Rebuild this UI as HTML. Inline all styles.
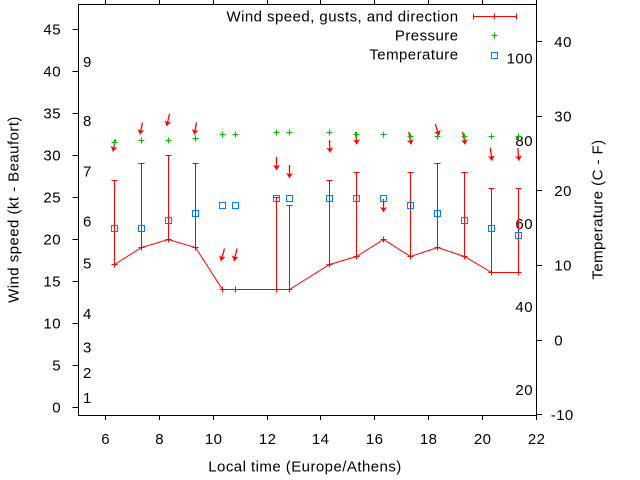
<!DOCTYPE html>
<html>
<head>
<meta charset="utf-8">
<style>
  html,body{margin:0;padding:0;background:#fff;}
  svg{display:block;}
  text{font-family:"Liberation Sans",Arial,sans-serif;font-size:15px;letter-spacing:0.45px;fill:#000;}
</style>
</head>
<body>
<svg width="640" height="480" viewBox="0 0 640 480" xmlns="http://www.w3.org/2000/svg">
  <defs>
    <marker id="ah" viewBox="0 -3.5 5 7" refX="5" refY="0" markerWidth="5" markerHeight="7" markerUnits="userSpaceOnUse" orient="auto">
      <path d="M0,-3.5 L5,0 L0,3.5 L1.2,0 Z" fill="#ff0000"/>
    </marker>
  </defs>
  <rect x="0" y="0" width="640" height="480" fill="#fff"/>

  <!-- frame -->
  <g stroke="#000" stroke-width="1" fill="none" shape-rendering="crispEdges">
    <rect x="78.5" y="4.5" width="458" height="411"/>
    <path d="M72.5,407.5H78.5 M72.5,365.5H78.5 M72.5,323.5H78.5 M72.5,281.5H78.5 M72.5,239.5H78.5 M72.5,197.5H78.5 M72.5,155.5H78.5 M72.5,113.5H78.5 M72.5,71.5H78.5 M72.5,29.5H78.5"/>
    <path d="M105.5,415.5V420 M159.5,415.5V420 M213.5,415.5V420 M267.5,415.5V420 M320.5,415.5V420 M374.5,415.5V420 M428.5,415.5V420 M482.5,415.5V420 M536.5,415.5V420"/>
    <path d="M105.5,0V4.5 M159.5,0V4.5 M213.5,0V4.5 M267.5,0V4.5 M320.5,0V4.5 M374.5,0V4.5 M428.5,0V4.5 M482.5,0V4.5 M536.5,0V4.5"/>
    <path d="M536.5,414.5H542 M536.5,340.5H542 M536.5,265.5H542 M536.5,190.5H542 M536.5,116.5H542 M536.5,41.5H542"/>
  </g>

  <g text-anchor="end">
    <text x="61" y="412.5">0</text>
    <text x="61" y="370.5">5</text>
    <text x="61" y="328.5">10</text>
    <text x="61" y="286.5">15</text>
    <text x="61" y="244.5">20</text>
    <text x="61" y="202.5">25</text>
    <text x="61" y="160.5">30</text>
    <text x="61" y="118.5">35</text>
    <text x="61" y="76.5">40</text>
    <text x="61" y="34.5">45</text>
  </g>

  <g text-anchor="middle">
    <text x="105.7" y="444">6</text>
    <text x="159.7" y="444">8</text>
    <text x="213.7" y="444">10</text>
    <text x="267.7" y="444">12</text>
    <text x="320.7" y="444">14</text>
    <text x="374.7" y="444">16</text>
    <text x="428.7" y="444">18</text>
    <text x="482.7" y="444">20</text>
    <text x="536.7" y="444">22</text>
  </g>

  <text x="550.7" y="419.8">-10</text>
  <text x="554.3" y="345.3">0</text>
  <text x="554.3" y="270.7">10</text>
  <text x="554.3" y="196.1">20</text>
  <text x="554.3" y="121.5">30</text>
  <text x="554.3" y="46.9">40</text>

  <g>
    <text x="83" y="403">1</text>
    <text x="83" y="377.9">2</text>
    <text x="83" y="352.7">3</text>
    <text x="83" y="319.1">4</text>
    <text x="83" y="268.7">5</text>
    <text x="83" y="226.7">6</text>
    <text x="83" y="176.3">7</text>
    <text x="83" y="125.9">8</text>
    <text x="83" y="67.1">9</text>
  </g>

  <g text-anchor="end">
    <text x="533" y="395.1">20</text>
    <text x="533" y="312.1">40</text>
    <text x="533" y="229.1">60</text>
    <text x="533" y="146.1">80</text>
    <text x="533" y="63.3">100</text>
  </g>

  <text x="305" y="471.7" text-anchor="middle">Local time (Europe/Athens)</text>
  <text transform="translate(18.3,209.5) rotate(-90)" text-anchor="middle">Wind speed (kt - Beaufort)</text>
  <text transform="translate(602.5,209.5) rotate(-90)" text-anchor="middle">Temperature (C - F)</text>

  <g text-anchor="end">
    <text x="458.5" y="21.7">Wind speed, gusts, and direction</text>
    <text x="458.5" y="40.7">Pressure</text>
    <text x="458.5" y="59.5">Temperature</text>
  </g>
  <g stroke="#ff0000" stroke-width="1" fill="none" shape-rendering="crispEdges">
    <path d="M473.5,16.5H516.5 M473.5,13.5V19.5 M516.5,13.5V19.5 M494.5,13.5V19.5"/>
  </g>
  <g stroke="#00c000" stroke-width="1" fill="none" shape-rendering="crispEdges">
    <path d="M491.5,35.5H497.5 M494.5,32.5V38.5"/>
  </g>
  <rect x="491.5" y="52.5" width="6" height="6" stroke="#0080ff" stroke-width="1" fill="none" shape-rendering="crispEdges"/>

  <polyline fill="none" stroke="#ff0000" stroke-width="1"
    points="114.5,264.5 141.5,247.5 168.5,239.5 195.5,247.5 222.5,289.5 235.5,289.5 276.5,289.5 289.5,289.5 329.5,264.5 356.5,256.5 383.5,239.5 410.5,256.5 437.5,247.5 464.5,256.5 491.5,272.5 518.5,272.5"/>

  <g stroke="#ff0000" stroke-width="1" fill="none" shape-rendering="crispEdges">
    <path d="M114.5,180.5V264.5 M111.5,180.5H117.5 M111.5,264.5H117.5 M114.5,261.5V267.5"/>
    <path d="M141.5,163.5V247.5 M138.5,163.5H144.5 M138.5,247.5H144.5 M141.5,244.5V250.5"/>
    <path d="M168.5,155.5V239.5 M165.5,155.5H171.5 M165.5,239.5H171.5 M168.5,236.5V242.5"/>
    <path d="M195.5,163.5V247.5 M192.5,163.5H198.5 M192.5,247.5H198.5 M195.5,244.5V250.5"/>
    <path d="M219.5,289.5H225.5 M222.5,286.5V292.5"/>
    <path d="M232.5,289.5H238.5 M235.5,286.5V292.5"/>
    <path d="M276.5,197.5V289.5 M273.5,197.5H279.5 M273.5,289.5H279.5 M276.5,286.5V292.5"/>
    <path d="M289.5,205.5V289.5 M286.5,205.5H292.5 M286.5,289.5H292.5 M289.5,286.5V292.5"/>
    <path d="M329.5,180.5V264.5 M326.5,180.5H332.5 M326.5,264.5H332.5 M329.5,261.5V267.5"/>
    <path d="M356.5,172.5V256.5 M353.5,172.5H359.5 M353.5,256.5H359.5 M356.5,253.5V259.5"/>
    <path d="M380.5,239.5H386.5 M383.5,236.5V242.5"/>
    <path d="M410.5,172.5V256.5 M407.5,172.5H413.5 M407.5,256.5H413.5 M410.5,253.5V259.5"/>
    <path d="M437.5,163.5V247.5 M434.5,163.5H440.5 M434.5,247.5H440.5 M437.5,244.5V250.5"/>
    <path d="M464.5,172.5V256.5 M461.5,172.5H467.5 M461.5,256.5H467.5 M464.5,253.5V259.5"/>
    <path d="M491.5,188.5V272.5 M488.5,188.5H494.5 M488.5,272.5H494.5 M491.5,269.5V275.5"/>
    <path d="M518.5,188.5V272.5 M515.5,188.5H521.5 M515.5,272.5H521.5 M518.5,269.5V275.5"/>
  </g>

  <g stroke="#ff0000" stroke-width="1.3" fill="none" marker-end="url(#ah)">
    <line x1="115.5" y1="139.5" x2="113" y2="151.5"/>
    <line x1="142.5" y1="122.5" x2="140" y2="134.5"/>
    <line x1="169.5" y1="114" x2="166.7" y2="126"/>
    <line x1="196.5" y1="122.5" x2="194.3" y2="134.5"/>
    <line x1="224.5" y1="248.5" x2="221" y2="261"/>
    <line x1="237" y1="248.5" x2="234" y2="261"/>
    <line x1="276.5" y1="157" x2="276.5" y2="170"/>
    <line x1="289.5" y1="165" x2="289.5" y2="178"/>
    <line x1="329.5" y1="140" x2="330" y2="152.5"/>
    <line x1="355.5" y1="132" x2="357" y2="144.5"/>
    <line x1="383.5" y1="199" x2="383.5" y2="212"/>
    <line x1="408.7" y1="132" x2="411.3" y2="144.5"/>
    <line x1="435.3" y1="124" x2="439" y2="135.5"/>
    <line x1="462.7" y1="132" x2="465.3" y2="144.5"/>
    <line x1="490.3" y1="148" x2="492" y2="160.7"/>
    <line x1="517.7" y1="148" x2="519" y2="160.7"/>
  </g>

  <g stroke="#00c000" stroke-width="1" fill="none" shape-rendering="crispEdges">
    <path d="M111.5,142.5H117.5 M114.5,139.5V145.5"/>
    <path d="M138.5,140.5H144.5 M141.5,137.5V143.5"/>
    <path d="M165.5,140.5H171.5 M168.5,137.5V143.5"/>
    <path d="M192.5,138.5H198.5 M195.5,135.5V141.5"/>
    <path d="M219.5,134.5H225.5 M222.5,131.5V137.5"/>
    <path d="M232.5,134.5H238.5 M235.5,131.5V137.5"/>
    <path d="M273.5,132.5H279.5 M276.5,129.5V135.5"/>
    <path d="M286.5,132.5H292.5 M289.5,129.5V135.5"/>
    <path d="M326.5,132.5H332.5 M329.5,129.5V135.5"/>
    <path d="M353.5,134.5H359.5 M356.5,131.5V137.5"/>
    <path d="M380.5,134.5H386.5 M383.5,131.5V137.5"/>
    <path d="M407.5,136.5H413.5 M410.5,133.5V139.5"/>
    <path d="M434.5,136.5H440.5 M437.5,133.5V139.5"/>
    <path d="M461.5,136.5H467.5 M464.5,133.5V139.5"/>
    <path d="M488.5,136.5H494.5 M491.5,133.5V139.5"/>
    <path d="M515.5,136.5H521.5 M518.5,133.5V139.5"/>
  </g>

  <g stroke="#0080ff" stroke-width="1" fill="none" shape-rendering="crispEdges">
    <rect x="111.5" y="225.5" width="6" height="6"/>
    <rect x="138.5" y="225.5" width="6" height="6"/>
    <rect x="165.5" y="217.5" width="6" height="6"/>
    <rect x="192.5" y="210.5" width="6" height="6"/>
    <rect x="219.5" y="202.5" width="6" height="6"/>
    <rect x="232.5" y="202.5" width="6" height="6"/>
    <rect x="273.5" y="195.5" width="6" height="6"/>
    <rect x="286.5" y="195.5" width="6" height="6"/>
    <rect x="326.5" y="195.5" width="6" height="6"/>
    <rect x="353.5" y="195.5" width="6" height="6"/>
    <rect x="380.5" y="195.5" width="6" height="6"/>
    <rect x="407.5" y="202.5" width="6" height="6"/>
    <rect x="434.5" y="210.5" width="6" height="6"/>
    <rect x="461.5" y="217.5" width="6" height="6"/>
    <rect x="488.5" y="225.5" width="6" height="6"/>
    <rect x="515.5" y="232.5" width="6" height="6"/>
  </g>
</svg>
</body>
</html>
